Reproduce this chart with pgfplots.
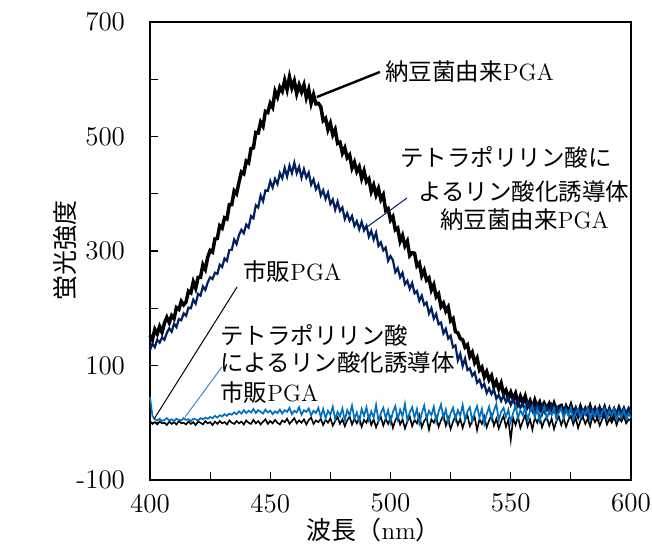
\documentclass[border=0pt]{standalone}
\usepackage{pgfplots}
\pgfplotsset{compat=1.18}
\usepackage{pgfplotstable}
\usepackage{fontspec}
\newfontfamily\cjk{Noto Sans CJK JP}
\definecolor{navy}{HTML}{002060}
\definecolor{lblue}{HTML}{0070C0}
\pgfplotstableread{
x a b c d
400 153 127 45 3
401 145 138 12 -2
402 163 132 6 1
403 155 145 4 -3
404 168 140 7 2
405 158 149 3 -1
406 174 145 5 0
407 184 157 8 -4
408 175 165 4 2
409 187 159 6 -2
410 182 173 3 1
411 201 167 7 -3
412 198 181 5 3
413 212 179 4 -1
414 206 191 8 0
415 211 187 5 -3
416 230 201 6 2
417 227 200 3 -2
418 246 215 7 1
419 235 208 6 -4
420 254 225 4 2
421 254 222 8 0
422 276 238 6 -3
423 268 232 9 3
424 289 245 7 -1
425 301 254 10 1
426 298 251 8 -4
427 321 262 12 2
428 322 260 9 -2
429 344 276 13 3
430 340 272 11 -1
431 358 287 15 1
432 356 283 12 -3
433 381 302 16 4
434 381 302 14 0
435 405 320 18 -2
436 400 312 15 3
437 420 328 20 -1
438 438 337 16 2
439 435 331 22 -3
440 457 346 17 4
441 454 341 21 0
442 479 361 18 -2
443 480 357 24 5
444 507 380 17 -1
445 506 376 22 3
446 525 397 19 -3
447 518 387 16 2
448 544 406 23 6
449 542 405 18 -2
450 558 422 21 3
451 551 411 15 -1
452 579 426 20 5
453 569 417 17 0
454 586 436 23 -3
455 579 427 16 4
456 598 445 22 1
457 582 430 19 7
458 604 449 26 -2
459 585 436 15 3
460 597 454 21 8
461 575 436 18 -1
462 590 447 27 4
463 578 428 14 0
464 590 443 22 6
465 568 428 19 -3
466 582 437 25 5
467 558 416 13 9
468 573 425 21 -2
469 557 408 17 4
470 558 416 26 1
471 552 397 10 7
472 528 406 24 -4
473 532 391 8 5
474 512 402 21 0
475 523 382 14 8
476 503 390 28 -5
477 512 372 6 3
478 488 386 19 10
479 490 370 11 -2
480 471 376 25 6
481 480 356 4 -6
482 463 366 22 4
483 468 353 13 11
484 445 361 30 -3
485 455 344 7 7
486 439 352 18 -1
487 447 338 2 9
488 427 351 24 -7
489 440 336 12 5
490 421 344 27 0
491 426 325 5 12
492 404 335 20 -4
493 415 320 9 6
494 398 332 31 -8
495 409 309 3 3
496 390 315 17 10
497 398 301 26 -5
498 371 306 8 7
499 374 283 22 -2
500 354 291 1 9
501 360 284 19 -9
502 337 263 29 4
503 340 270 6 12
504 317 254 23 -3
505 327 262 11 6
506 309 242 33 -10
507 317 248 4 2
508 292 234 18 11
509 297 244 27 -6
510 296 226 9 5
511 274 230 24 -1
512 279 213 -1 13
513 257 222 16 -8
514 266 206 30 3
515 249 210 7 9
516 253 191 21 -12
517 232 200 13 6
518 241 182 28 0
519 220 190 2 10
520 225 172 19 -7
521 203 175 32 4
522 209 156 8 14
523 195 164 23 -5
524 202 147 0 8
525 178 152 17 -11
526 182 132 26 2
527 159 135 6 12
528 157 109 22 -4
529 147 120 12 7
530 145 99 31 -9
531 132 112 5 5
532 136 92 20 13
533 116 95 27 -6
534 123 82 3 3
535 105 88 18 10
536 113 70 29 -13
537 92 75 9 6
538 97 62 24 -2
539 80 68 -2 11
540 89 52 15 -8
541 75 60 28 4
542 82 50 7 14
543 63 58 21 -5
544 72 42 33 7
545 59 49 4 -10
546 69 38 19 2
547 51 48 26 12
548 57 36 10 -7
549 43 44 23 5
550 53 31 1 -30
551 41 41 17 8
552 51 30 30 -4
553 34 39 8 11
554 46 26 22 -9
555 35 33 13 3
556 46 23 27 13
557 29 36 5 -6
558 38 24 20 6
559 25 32 29 -12
560 39 19 9 9
561 26 32 24 0
562 35 22 3 12
563 19 32 18 -8
564 33 19 28 4
565 25 28 7 10
566 33 18 21 -5
567 20 31 14 7
568 33 19 26 -11
569 20 27 6 3
570 28 19 19 11
571 30 27 25 -4
572 16 17 8 8
573 28 27 22 -7
574 18 15 12 5
575 30 24 27 12
576 16 17 5 -3
577 24 27 18 9
578 13 14 24 -9
579 27 23 9 4
580 15 13 21 10
581 24 24 14 -2
582 14 15 26 7
583 28 25 6 -6
584 15 16 20 11
585 24 24 11 1
586 12 13 23 8
587 25 23 7 -5
588 15 14 19 6
589 26 26 25 13
590 12 15 8 -3
591 23 24 21 7
592 10 16 12 0
593 22 25 24 10
594 13 14 6 -4
595 25 24 18 8
596 13 14 10 2
597 23 25 22 11
598 10 17 7 -1
599 20 26 17 6
600 22 18 9 4
}\data
\begin{document}
\begin{tikzpicture}
\useasboundingbox (0,0) rectangle (326bp,272bp);
\begin{axis}[
  scale only axis, width=240.5bp, height=229bp,
  at={(75bp,32bp)}, anchor=south west,
  xmin=400, xmax=600, ymin=-100, ymax=700,
  xtick={400,450,...,600}, minor xtick={425,475,525,575},
  ytick={-100,100,...,700}, minor ytick={0,200,400,600},
  xtick pos=bottom, ytick pos=left,
  tick align=inside, major tick length=4bp, minor tick length=4bp,
  tick style={black, line width=0.6bp},
  axis line style={line width=1.4bp},
  /pgf/number format/assume math mode=true,
  ticklabel style={font=\fontsize{13.5bp}{16bp}\selectfont},
  yticklabel style={xshift=-9bp},
  xticklabel style={yshift=-3.5bp},
  xlabel={{\cjk 波長（}nm{\cjk ）}},
  xlabel style={at={(axis description cs:0.465,-0.109)}, anchor=center, font=\fontsize{12.5bp}{14bp}\selectfont},
  ylabel={\cjk 蛍光強度},
  ylabel style={at={(axis description cs:-0.177,0.502)}, anchor=center, font=\fontsize{12.5bp}{14bp}\selectfont},
  clip=false,
]
\addplot[black, line width=0.8bp] table[x=x, y=d] {\data};
\addplot[black, line width=1.75bp] table[x=x, y=a] {\data};
\addplot[navy, line width=1.1bp] table[x=x, y=b] {\data};
\addplot[lblue, line width=0.85bp] table[x=x, y=c] {\data};
% annotations
\draw[black, line width=1.2bp] (axis cs:469.4,569) -- (axis cs:495.6,612.7);
\node[anchor=west, inner sep=0, font=\fontsize{11.75bp}{14bp}\selectfont] at (axis cs:497.7,612.7) {{\cjk 納豆菌由来}PGA};
\draw[navy, line width=0.5bp] (axis cs:490.2,341.9) -- (axis cs:506.9,392.6);
\node[anchor=west, inner sep=0, font=\fontsize{11.75bp}{14bp}\selectfont] at (axis cs:503.9,464.2) {\cjk テトラポリリン酸に};
\node[anchor=west, inner sep=0, font=\fontsize{11.75bp}{14bp}\selectfont] at (axis cs:511.4,403.6) {\cjk よるリン酸化誘導体};
\node[anchor=west, inner sep=0, font=\fontsize{11.75bp}{14bp}\selectfont] at (axis cs:520.6,354.1) {{\cjk 納豆菌由来}PGA};
\draw[black, line width=0.5bp] (axis cs:401.7,6.6) -- (axis cs:436.2,237.1);
\node[anchor=west, inner sep=0, font=\fontsize{11.75bp}{14bp}\selectfont] at (axis cs:438.7,263.3) {{\cjk 市販}PGA};
\draw[lblue!80, line width=0.5bp] (axis cs:414.6,10) -- (axis cs:429.9,97.4);
\node[anchor=west, inner sep=0, font=\fontsize{11.75bp}{14bp}\selectfont] at (axis cs:429.1,153.3) {\cjk テトラポリリン酸};
\node[anchor=west, inner sep=0, font=\fontsize{11.75bp}{14bp}\selectfont] at (axis cs:429.1,104.4) {\cjk によるリン酸化誘導体};
\node[anchor=west, inner sep=0, font=\fontsize{11.75bp}{14bp}\selectfont] at (axis cs:429.1,52) {{\cjk 市販}PGA};
\end{axis}
\end{tikzpicture}
\end{document}
